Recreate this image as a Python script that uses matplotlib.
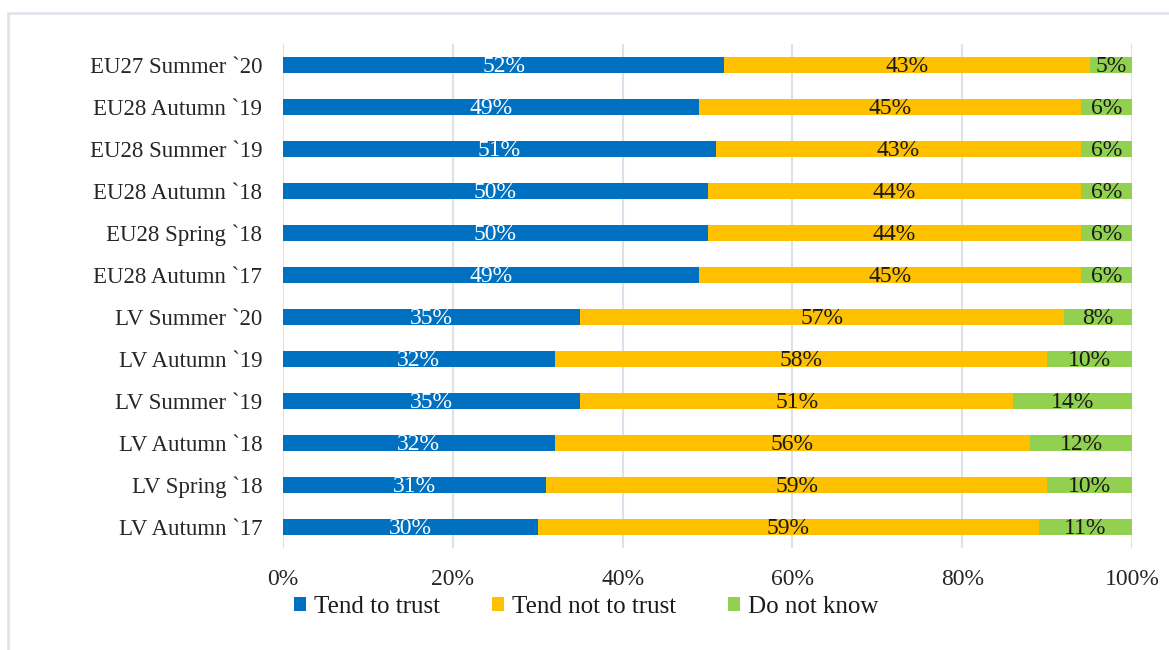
import matplotlib
matplotlib.use("Agg")
import matplotlib.pyplot as plt
from matplotlib.patches import Rectangle

categories = ["EU27 Summer `20", "EU28 Autumn `19", "EU28 Summer `19", "EU28 Autumn `18",
              "EU28 Spring `18", "EU28 Autumn `17", "LV Summer `20", "LV Autumn `19",
              "LV Summer `19", "LV Autumn `18", "LV Spring `18", "LV Autumn `17"]
trust = [52, 49, 51, 50, 50, 49, 35, 32, 35, 32, 31, 30]
not_trust = [43, 45, 43, 44, 44, 45, 57, 58, 51, 56, 59, 59]
dont_know = [5, 6, 6, 6, 6, 6, 8, 10, 14, 12, 10, 11]
series_names = ["Tend to trust", "Tend not to trust", "Do not know"]
colors = ["#0070C0", "#FFC000", "#92D050"]
text_colors = ["white", "#1a1a1a", "#1a1a1a"]
xticks = [0, 20, 40, 60, 80, 100]

plt.rcParams['font.family'] = ['Liberation Serif', 'DejaVu Serif']

fig = plt.figure(figsize=(11.69, 6.5), dpi=100)
ax = fig.add_axes([283/1169, 1-548/650, (1132-283)/1169, (548-44)/650])

n = len(categories)
ypos = list(range(n))[::-1]
lefts = [0]*n
for vals, name, col, tc in zip([trust, not_trust, dont_know], series_names, colors, text_colors):
    ax.barh(ypos, vals, left=lefts, height=0.39, color=col, label=name, zorder=2)
    for y, l, v in zip(ypos, lefts, vals):
        ax.text(l + v/2, y - 0.03, f"{v}%", ha='center', va='center', color=tc, fontsize=17, zorder=3)
    lefts = [a+b for a, b in zip(lefts, vals)]

ax.set_xlim(0, 100)
ax.set_ylim(-0.5, n-0.5)
ax.set_yticks(ypos)
ax.set_yticklabels(categories, fontsize=16.5, color="#262626")
ax.set_xticks(xticks)
ax.set_xticklabels([f"{t}%" for t in xticks], fontsize=17, color="#262626")
ax.tick_params(length=0)
ax.tick_params(axis='x', pad=15)
ax.tick_params(axis='y', pad=15)
ax.grid(axis='x', color="#DDE2EA", linewidth=1.5, zorder=0)
for s in ax.spines.values():
    s.set_visible(False)

leg = fig.legend(loc='center', bbox_to_anchor=(586/1169, 1-607/650), ncol=3, frameon=False,
                 fontsize=18, handlelength=0.48, handleheight=0.5, handletextpad=0.3,
                 columnspacing=2.1)
for t in leg.get_texts():
    t.set_color("#1a1a1a")

fig.patches.append(Rectangle((8/1169, -0.1), 1.2, 1-13/650+0.1, transform=fig.transFigure,
                             fill=False, edgecolor="#DDE2EA", linewidth=1.8))

fig.savefig("out.png", dpi=100)
